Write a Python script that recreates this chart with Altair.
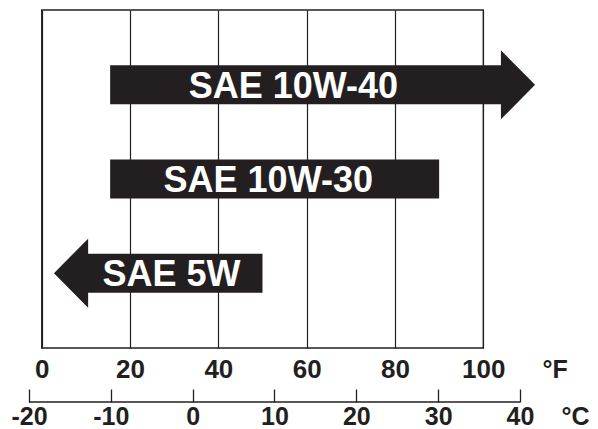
import altair as alt
import pandas as pd

# ---- data ----
oils = ["SAE 10W-40", "SAE 10W-30", "SAE 5W"]
low_f = [15.5, 15.5, 10.2]     # °F where the bar body starts
high_f = [104.3, 90, 50]       # °F where the bar body ends
label_f = [57.0, 51.3, 29.4]   # °F at the centre of each label
arrow_dir = ["right", "none", "left"]

f_ticks = [0, 20, 40, 60, 80, 100]
c_ticks = [-20, -10, 0, 10, 20, 30, 40]

W = 582
H = 338
FONT = "Liberation Sans"
INK = "#231f20"

bars = pd.DataFrame({"oil": oils, "low": low_f, "high": high_f,
                     "lab": label_f, "arrow": arrow_dir})
frame = pd.DataFrame({"lo": [f_ticks[0]], "hi": [f_ticks[-1]]})
cline = pd.DataFrame({"lo": [c_ticks[0]], "hi": [c_ticks[-1]]})

fscale = alt.Scale(domain=[-7.63, 124.16], nice=False, zero=False)
cscale = alt.Scale(domain=[-22.57, 48.56], nice=False, zero=False)
yscale = alt.Scale(type="point", domain=oils, padding=0.795)

label_style = dict(labelFont=FONT, labelFontWeight="bold",
                   labelColor=INK, labelFlush=False, labelOverlap=False,
                   labelExpr="'' + datum.value",
                   titleFont=FONT, titleFontSize=25, titleFontWeight="bold",
                   titleColor=INK, titleAngle=0, titleAlign="left",
                   titleBaseline="alphabetic")

faxis = alt.Axis(values=f_ticks, orient="bottom", grid=True, gridColor=INK,
                 gridWidth=1.2, gridOpacity=1, domain=False, ticks=False,
                 tickSize=0, labelPadding=8, labelFontSize=26,
                 title="°F", titleX=534, titleY=29, **label_style)

caxis = alt.Axis(values=c_ticks, orient="bottom", offset=41, grid=False,
                 domain=False, ticks=True, tickSize=13, tickColor=INK,
                 tickWidth=1.3, labelPadding=2, labelFontSize=25,
                 title="°C", titleX=553, titleY=35, **label_style)

ydef = alt.Y("oil:N", scale=yscale, axis=None)

frame_layer = alt.Chart(frame).mark_rect(
    fillOpacity=0, stroke=INK, strokeWidth=1.3
).encode(
    x=alt.X("lo:Q", scale=fscale, axis=faxis),
    x2="hi:Q",
    y=alt.value(0),
    y2=alt.value(H),
)

bar_layer = alt.Chart(bars).mark_bar(size=39, color=INK).encode(
    x=alt.X("low:Q", scale=fscale, axis=None),
    x2="high:Q",
    y=ydef,
)

right_arrow = alt.Chart(bars).transform_filter(
    "datum.arrow == 'right'"
).mark_point(
    shape="M-0.04,-1L0.95,0L-0.04,1Z", size=4761, filled=True,
    color=INK, opacity=1, strokeWidth=0
).encode(
    x=alt.X("high:Q", scale=fscale, axis=None),
    y=ydef,
)

left_arrow = alt.Chart(bars).transform_filter(
    "datum.arrow == 'left'"
).mark_point(
    shape="M0.04,-1L-0.95,0L0.04,1Z", size=4761, filled=True,
    color=INK, opacity=1, strokeWidth=0
).encode(
    x=alt.X("low:Q", scale=fscale, axis=None),
    y=ydef,
)

text_layer = alt.Chart(bars).mark_text(
    font=FONT, fontSize=36, fontWeight="bold", color="white",
    dy=2, baseline="middle", align="center"
).encode(
    x=alt.X("lab:Q", scale=fscale, axis=None),
    y=ydef,
    text="oil:N",
)

c_layer = alt.Chart(cline).mark_rule(color=INK, strokeWidth=1.3).encode(
    x=alt.X("lo:Q", scale=cscale, axis=caxis),
    x2="hi:Q",
    y=alt.value(H + 54),
)

chart = alt.layer(
    frame_layer, bar_layer, right_arrow, left_arrow, text_layer, c_layer
).resolve_scale(
    x="independent"
).properties(
    width=W, height=H,
    padding={"left": 0, "top": 1, "right": 0, "bottom": 0},
).configure_view(stroke=None)

chart.save("out.html", embed_options={"renderer": "svg", "actions": False})
